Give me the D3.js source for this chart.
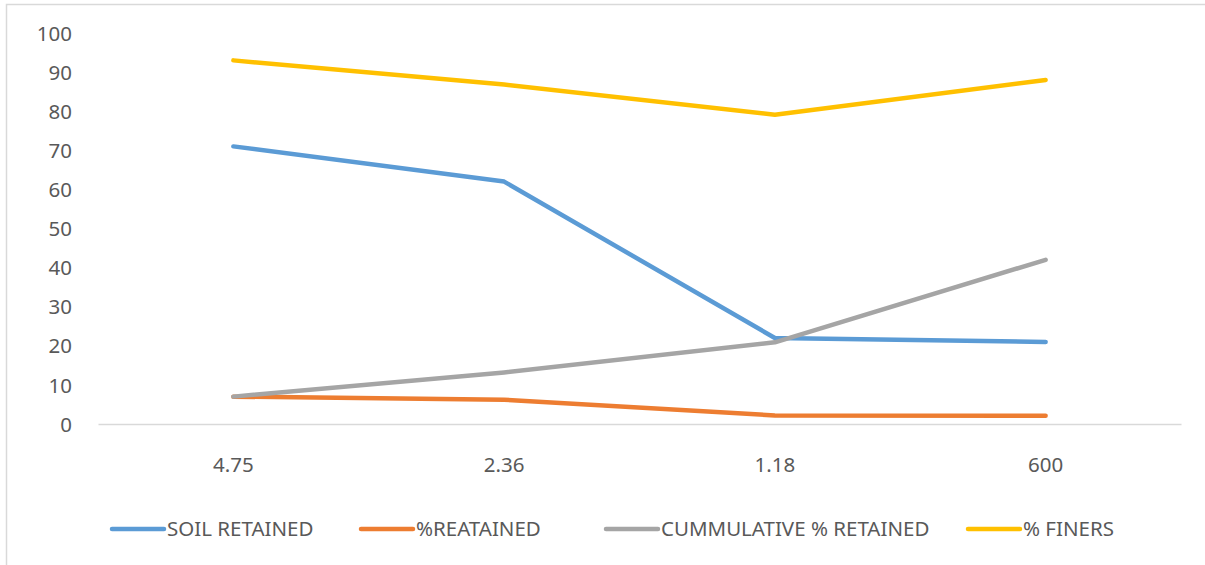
<!DOCTYPE html>
<html><head><meta charset="utf-8">
<script src="https://cdn.jsdelivr.net/npm/d3@7"></script>
<style>html,body{margin:0;padding:0;background:#fff;}svg{display:block;}</style>
</head><body>
<svg id="chart" width="1205" height="565"></svg>
<script>
const categories = ["4.75", "2.36", "1.18", "600"];
const soilRetained = [71, 62, 22, 21];
const pctRetained = [7, 6.2, 2.2, 2.1];
const cumulativeRetained = [7, 13.2, 20.9, 42];
const pctFiners = [93, 86.8, 79.1, 88];
const yTicks = [0, 10, 20, 30, 40, 50, 60, 70, 80, 90, 100];
const seriesNames = ["SOIL RETAINED", "%REATAINED", "CUMMULATIVE % RETAINED", "% FINERS"];
const seriesColors = ["#5B9BD5", "#ED7D31", "#A5A5A5", "#FFC000"];
const seriesValues = [soilRetained, pctRetained, cumulativeRetained, pctFiners];

const svg = d3.select("#chart");
const font = "'Noto Sans', 'Open Sans', sans-serif";
const textColor = "#595959";

// chart border
svg.append("path").attr("d", "M6.5,565 L6.5,4.5 L1205,4.5")
  .attr("fill", "none").attr("stroke", "#D9D9D9").attr("stroke-width", 1.5);

const x = d3.scaleBand().domain(categories).range([98, 1181]);
const y = d3.scaleLinear().domain([0, 100]).range([424, 33]);

// y axis labels
const yAxis = d3.axisLeft(y).tickValues(yTicks).tickSize(0).tickPadding(0);
const gy = svg.append("g").attr("transform", "translate(72,0)").call(yAxis);
gy.select(".domain").remove();
gy.selectAll("text").attr("font-family", font).attr("font-size", 20.5).attr("fill", textColor)
  .attr("dy", "0.35em");

// x axis
const xAxis = d3.axisBottom(x).tickSize(0).tickPadding(0);
const gx = svg.append("g").attr("transform", "translate(0,424)").call(xAxis);
gx.select(".domain").attr("stroke", "#D9D9D9").attr("stroke-width", 1.5);
gx.selectAll("text").attr("font-family", font).attr("font-size", 20.5).attr("fill", textColor)
  .attr("dy", "0").attr("y", 48);

// lines
const line = d3.line().x((d, i) => x(categories[i]) + x.bandwidth() / 2).y(d => y(d));
seriesValues.forEach((vals, k) => {
  svg.append("path").datum(vals).attr("d", line)
    .attr("fill", "none").attr("stroke", seriesColors[k]).attr("stroke-width", 4.5)
    .attr("stroke-linecap", "round").attr("stroke-linejoin", "round");
});

// legend
const legendX = [112, 361, 606, 968];
const lg = svg.append("g").attr("transform", "translate(0,529)");
seriesNames.forEach((name, k) => {
  lg.append("line").attr("x1", legendX[k]).attr("x2", legendX[k] + 52).attr("y1", 0).attr("y2", 0)
    .attr("stroke", seriesColors[k]).attr("stroke-width", 4.5).attr("stroke-linecap", "round");
  lg.append("text").attr("x", legendX[k] + 55).attr("y", 0).attr("dy", "0.35em")
    .attr("font-family", font).attr("font-size", 20.5).attr("fill", textColor).text(name);
});
</script>
</body></html>
